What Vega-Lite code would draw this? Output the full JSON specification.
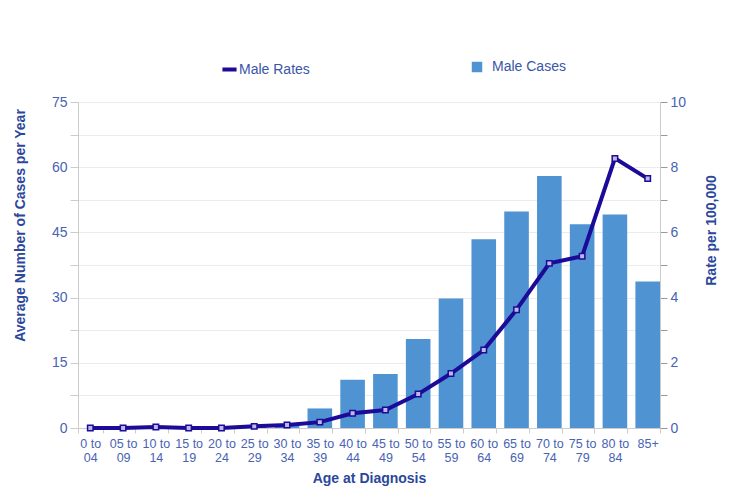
{
  "$schema": "https://vega.github.io/schema/vega-lite/v6.json",
  "width": 582,
  "height": 326,
  "autosize": "none",
  "padding": {"left": 78, "top": 102, "right": 90, "bottom": 66},
  "background": "white",
  "config": {
    "font": "Liberation Sans",
    "view": {"stroke": null},
    "axis": {"labelColor": "#4863b3", "titleColor": "#2a479c", "domainColor": "#cccccc", "tickColor": "#cccccc", "gridColor": "#ebebeb"}
  },
  "data": {"values": [
    {"age": "0 to 04", "cases": 0, "rate": 0},
    {"age": "05 to 09", "cases": 0, "rate": 0},
    {"age": "10 to 14", "cases": 0.2, "rate": 0.03},
    {"age": "15 to 19", "cases": 0, "rate": 0},
    {"age": "20 to 24", "cases": 0, "rate": 0},
    {"age": "25 to 29", "cases": 0.4, "rate": 0.05},
    {"age": "30 to 34", "cases": 0.8, "rate": 0.09},
    {"age": "35 to 39", "cases": 4.5, "rate": 0.18},
    {"age": "40 to 44", "cases": 11.1, "rate": 0.45},
    {"age": "45 to 49", "cases": 12.4, "rate": 0.55},
    {"age": "50 to 54", "cases": 20.5, "rate": 1.04},
    {"age": "55 to 59", "cases": 29.8, "rate": 1.67},
    {"age": "60 to 64", "cases": 43.4, "rate": 2.39},
    {"age": "65 to 69", "cases": 49.8, "rate": 3.63},
    {"age": "70 to 74", "cases": 58.0, "rate": 5.05},
    {"age": "75 to 79", "cases": 46.9, "rate": 5.27},
    {"age": "80 to 84", "cases": 49.1, "rate": 8.27},
    {"age": "85+", "cases": 33.7, "rate": 7.65}
  ]},
  "encoding": {
    "x": {
      "field": "age", "type": "nominal", "sort": null,
      "scale": {"paddingInner": 0.25, "paddingOuter": 0},
      "axis": {
        "title": "Age at Diagnosis", "titleFontSize": 14, "titleFontWeight": "bold", "titlePadding": 7,
        "labelAngle": 0, "labelFontSize": 12.5, "labelPadding": 4, "tickBand": "extent", "tickSize": 5,
        "labelExpr": "datum.label == '85+' ? '85+' : [slice(datum.label, 0, -3), slice(datum.label, -2)]"
      }
    }
  },
  "layer": [
    {
      "mark": {"type": "bar"},
      "encoding": {
        "y": {
          "field": "cases", "type": "quantitative",
          "scale": {"domain": [0, 75], "nice": false},
          "axis": {
            "title": "Average Number of Cases per Year", "titleFontSize": 14, "titleFontWeight": "bold",
            "titleAngle": 270, "titleAlign": "center", "titleBaseline": "middle", "titleX": -58, "titleY": 123,
            "values": [0, 7.5, 15, 22.5, 30, 37.5, 45, 52.5, 60, 67.5, 75],
            "labelExpr": "datum.value % 15 == 0 ? datum.label : ''",
            "labelFontSize": 14, "tickSize": 8, "labelPadding": 3, "grid": true
          }
        },
        "fill": {
          "datum": "Male Cases",
          "scale": {"range": ["#4f93d2"]},
          "legend": {"title": null, "orient": "none", "legendX": 392, "legendY": -42, "symbolType": "square", "symbolSize": 110, "labelFontSize": 14, "labelColor": "#3a55a8", "labelOffset": 8}
        }
      }
    },
    {
      "mark": {"type": "line", "strokeWidth": 4, "point": {"shape": "square", "size": 30, "filled": true, "fill": "#bdb8e8", "stroke": "#1c0a99", "strokeWidth": 1.5}},
      "encoding": {
        "y": {
          "field": "rate", "type": "quantitative",
          "scale": {"domain": [0, 10], "nice": false},
          "axis": {
            "orient": "right", "title": "Rate per 100,000", "titleFontSize": 14, "titleFontWeight": "bold",
            "titleAngle": 270, "titleAlign": "center", "titleBaseline": "middle", "titleX": 51, "titleY": 128,
            "values": [0, 1, 2, 3, 4, 5, 6, 7, 8, 9, 10],
            "labelExpr": "datum.value % 2 == 0 ? datum.label : ''",
            "labelFontSize": 14, "tickSize": 7, "labelPadding": 3, "grid": false, "tickColor": "#999999"
          }
        },
        "stroke": {
          "datum": "Male Rates",
          "scale": {"range": ["#1c0a99"]},
          "legend": {"title": null, "orient": "none", "legendX": 142, "legendY": -42, "symbolType": "stroke", "symbolStrokeWidth": 4, "symbolSize": 200, "labelFontSize": 14, "labelColor": "#3a55a8", "labelOffset": 0}
        }
      }
    }
  ],
  "resolve": {"scale": {"y": "independent", "fill": "independent", "stroke": "independent"}}
}
